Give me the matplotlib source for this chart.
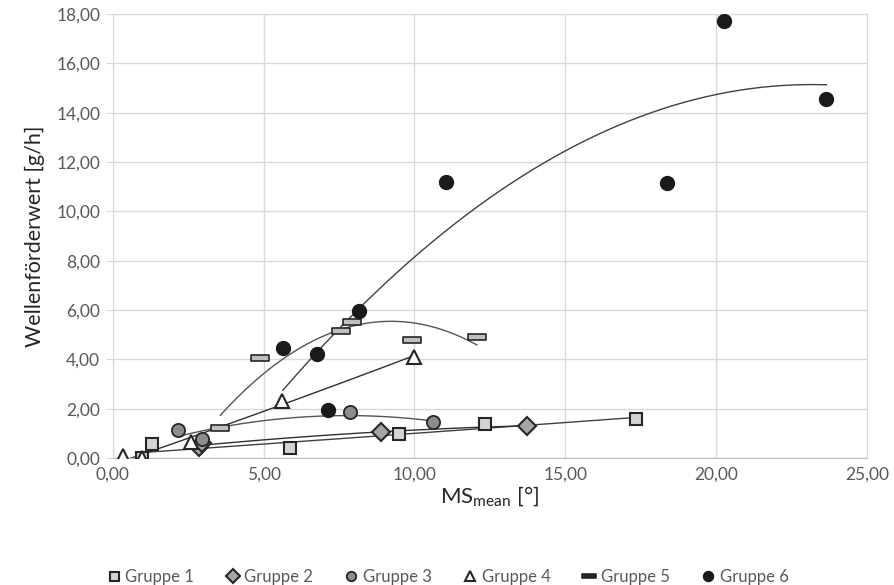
import numpy as np
import matplotlib
matplotlib.use("Agg")
import matplotlib.pyplot as plt
from matplotlib.ticker import FuncFormatter, MultipleLocator
from matplotlib.path import Path

plt.rcParams['font.family'] = ['Lato', 'DejaVu Sans']

# ---- data ----
g1_x = [0.96, 1.29, 5.89, 9.48, 12.35, 17.33]
g1_y = [0.00, 0.57, 0.42, 0.98, 1.37, 1.58]
g2_x = [2.86, 2.95, 8.88, 13.74]
g2_y = [0.43, 0.60, 1.06, 1.31]
g3_x = [2.18, 2.97, 7.85, 10.60]
g3_y = [1.14, 0.77, 1.85, 1.45]
g4_x = [0.33, 0.96, 2.60, 5.60, 9.98]
g4_y = [0.07, 0.00, 0.67, 2.32, 4.11]
g5_x = [3.57, 4.89, 7.55, 7.93, 9.92, 12.07]
g5_y = [1.21, 4.07, 5.17, 5.51, 4.79, 4.92]
g6_x = [5.64, 6.78, 7.15, 8.15, 11.05, 18.36, 20.27, 23.65]
g6_y = [4.47, 4.20, 1.94, 5.98, 11.21, 11.17, 17.73, 14.56]
labels = ["Gruppe 1", "Gruppe 2", "Gruppe 3", "Gruppe 4", "Gruppe 5", "Gruppe 6"]

fig = plt.figure(figsize=(8.94, 5.85), dpi=100)
ax = fig.add_axes([0.126, 0.217, 0.844, 0.759])

dash = Path([(-1, -0.28), (1, -0.28), (1, 0.28), (-1, 0.28), (-1, -0.28)],
            [Path.MOVETO, Path.LINETO, Path.LINETO, Path.LINETO, Path.CLOSEPOLY])

series = [
    (g1_x, g1_y, dict(marker='s', ms=9, mfc='#d4d4d4', mec='#262626', mew=1.5), '#404040'),
    (g2_x, g2_y, dict(marker='D', ms=9.5, mfc='#a6a6a6', mec='#262626', mew=1.5), '#303030'),
    (g3_x, g3_y, dict(marker='o', ms=9.5, mfc='#8c8c8c', mec='#262626', mew=1.3), '#555555'),
    (g4_x, g4_y, dict(marker='^', ms=9.5, mfc='#ffffff', mec='#262626', mew=1.5), '#303030'),
    (g5_x, g5_y, dict(marker=dash, ms=13.5, mfc='#bfbfbf', mec='#262626', mew=1.2), '#555555'),
    (g6_x, g6_y, dict(marker='o', ms=10, mfc='#1a1a1a', mec='#1a1a1a', mew=1), '#404040'),
]

for (xs, ys, mk, lc) in series:
    xs = np.array(xs); ys = np.array(ys)
    c = np.polyfit(xs, ys, 2)
    xx = np.linspace(xs.min(), xs.max(), 200)
    ax.plot(xx, np.polyval(c, xx), color=lc, lw=1.0, zorder=2)

handles = []
for (xs, ys, mk, lc), lab in zip(series, labels):
    h, = ax.plot(xs, ys, ls='none', zorder=3, label=lab, **mk)
    handles.append(h)

ax.set_xlim(0, 25)
ax.set_ylim(0, 18)
ax.xaxis.set_major_locator(MultipleLocator(5))
ax.yaxis.set_major_locator(MultipleLocator(2))
fmt = FuncFormatter(lambda v, p: f"{v:.2f}".replace('.', ','))
ax.xaxis.set_major_formatter(fmt)
ax.yaxis.set_major_formatter(fmt)
ax.grid(True, color='#d9d9d9', lw=1.0, zorder=0)
ax.set_axisbelow(True)
for s in ['top', 'right', 'left']:
    ax.spines[s].set_color('#d9d9d9')
ax.spines['bottom'].set_color('#bfbfbf')
ax.tick_params(axis='y', length=5, color='#d9d9d9', labelsize=12.5, labelcolor='#595959', pad=4)
ax.tick_params(axis='x', length=0, labelsize=12.5, labelcolor='#595959', pad=6)

ax.set_ylabel("Wellenförderwert [g/h]", fontsize=15.5, color='#262626', labelpad=8)
ax.set_xlabel(r"MS$_{\mathregular{mean}}$ [°]", fontsize=16, color='#262626', labelpad=2)

leg_handles = []
for h, (xs, ys, mk, lc) in zip(handles, series):
    m = dict(mk)
    m['ms'] = m['ms'] * 0.72
    if m['marker'] is dash:
        m['mfc'] = '#262626'
    hh, = ax.plot([], [], ls='none', **m)
    leg_handles.append(hh)
fig.legend(leg_handles, labels, loc='lower center', bbox_to_anchor=(0.5, -0.025),
           ncol=6, frameon=False, fontsize=12, labelcolor='#595959',
           handletextpad=0.2, columnspacing=1.8, handlelength=1.0)

fig.savefig("out.png", dpi=100)
